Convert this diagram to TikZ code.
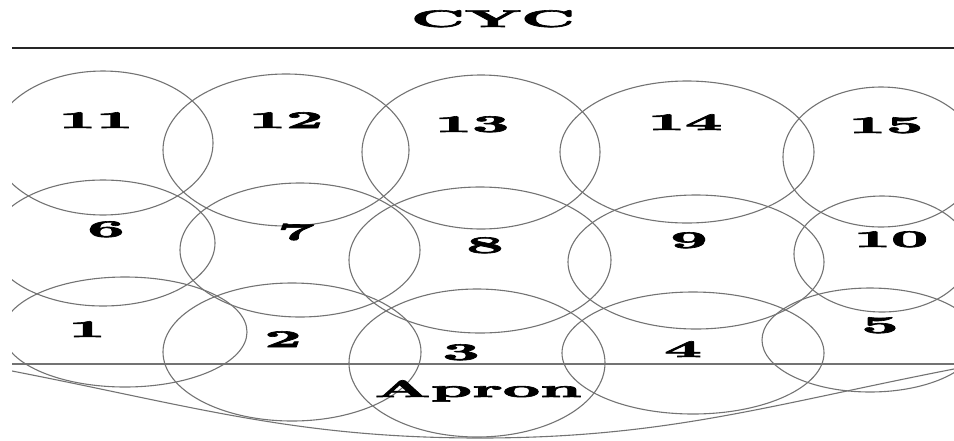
\documentclass[tikz,border=0pt]{standalone}
\usepackage{graphicx}
\usepackage{fontspec}
\newfontfamily\gordo{lmroman10-bold.otf}[FakeBold=2.5]
\newcommand{\ancho}[1]{\scalebox{2.7}[1]{#1}}
\tikzset{
  zona/.style={draw=black!55, line width=1.1pt},
  etiq/.style={anchor=base, font=\fontsize{24}{24}\selectfont\gordo},
}
\begin{document}
\begin{tikzpicture}[x={(1pt,0pt)}, y={(0pt,-1pt)}]
    \useasboundingbox (0,0) rectangle (954,440);
    \clip (12,0) rectangle (954,440);

    % Ciclorama
    \node[etiq] (cyc) at (493,27) {\ancho{CYC}};
    \draw[line width=2.4pt, black!85] (12,48) -- (954,48);

    % Fila de atrás
    \draw[zona] (103,143) ellipse [x radius=110pt, y radius=72pt];
    \draw[zona] (286,150) ellipse [x radius=123pt, y radius=76pt];
    \draw[zona] (481,152) ellipse [x radius=119pt, y radius=77pt];
    \draw[zona] (687,152) ellipse [x radius=127pt, y radius=71pt];
    \draw[zona] (881,157) ellipse [x radius=98pt, y radius=70pt];

    % Fila del medio
    \draw[zona] (103,243) ellipse [x radius=112pt, y radius=63pt];
    \draw[zona] (300,250) ellipse [x radius=120pt, y radius=67pt];
    \draw[zona] (480,260) ellipse [x radius=131pt, y radius=73pt];
    \draw[zona] (696,262) ellipse [x radius=128pt, y radius=67pt];
    \draw[zona] (882,254) ellipse [x radius=88pt, y radius=58pt];

    % Fila de adelante
    \draw[zona] (125,332) ellipse [x radius=122pt, y radius=55pt];
    \draw[zona] (292,352) ellipse [x radius=129pt, y radius=69pt];
    \draw[zona] (477,363) ellipse [x radius=128pt, y radius=74pt];
    \draw[zona] (693,353) ellipse [x radius=131pt, y radius=61pt];
    \draw[zona] (870,340) ellipse [x radius=108pt, y radius=52pt];

    % Proscenio
    \draw[zona, line width=1.4pt] (12,364) -- (954,364);
    \coordinate (apI) at (12,371);
    \coordinate (apM) at (480,438);
    \coordinate (apD) at (954,369);
    \draw[zona] (apI) to[out=-11, in=180] (apM) to[out=0, in=191] (apD);
    \node[etiq] (apron) at (478,397) {\ancho{Apron}};

    % Numeros de las zonas
    \node[etiq] (z11) at (96,128) {\ancho{11}};
    \node[etiq] (z12) at (286,128) {\ancho{12}};
    \node[etiq] (z13) at (472,132) {\ancho{13}};
    \node[etiq] (z14) at (685,130) {\ancho{14}};
    \node[etiq] (z15) at (886,133) {\ancho{15}};
    \node[etiq] (z6) at (106,237) {\ancho{6}};
    \node[etiq] (z7) at (296,240) {\ancho{7}};
    \node[etiq] (z8) at (485,253) {\ancho{8}};
    \node[etiq] (z9) at (689,248) {\ancho{9}};
    \node[etiq] (z10) at (891,247) {\ancho{10}};
    \node[etiq] (z1) at (87,337) {\ancho{1}};
    \node[etiq] (z2) at (283,347) {\ancho{2}};
    \node[etiq] (z3) at (461,360) {\ancho{3}};
    \node[etiq] (z4) at (683,357) {\ancho{4}};
    \node[etiq] (z5) at (880,333) {\ancho{5}};

\end{tikzpicture}
\end{document}
